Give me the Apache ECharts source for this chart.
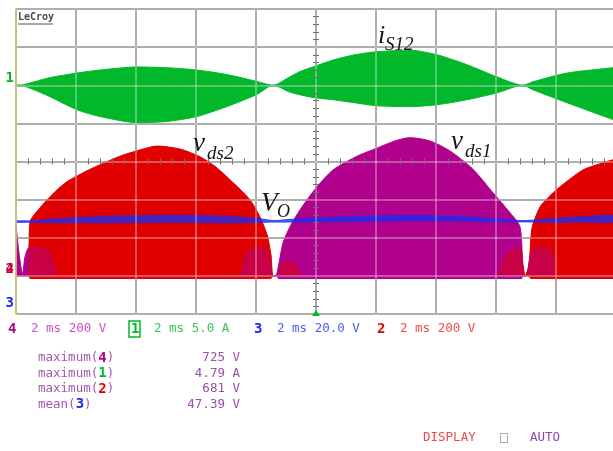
<!DOCTYPE html>
<html>
<head>
<meta charset="utf-8">
<script src="https://cdn.jsdelivr.net/npm/echarts@6/dist/echarts.min.js"></script>
<style>
  html, body { margin: 0; padding: 0; background: #ffffff; }
  #scope { width: 613px; height: 451px; }
</style>
</head>
<body>
<div id="scope"></div>
<script>
// ---- Channel 1: switch current i_S12 (A), envelope of the switching waveform ----
const greenT     = [0, 0.13, 0.6, 1.13, 2.03, 2.8, 4.03, 5.03, 6.03, 7.03, 8.03, 8.57, 9.13, 9.47, 9.9, 10.57, 11.3, 12.03, 13.13, 14.03, 15.03, 16.03, 16.9, 17.23, 18.37, 19.9, 20];
const greenUpper = [0.1, 0, 0.45, 1.0, 1.6, 2.0, 2.4, 2.3, 2.0, 1.4, 0.5, 0, 1.1, 1.8, 2.4, 3.3, 4.0, 4.4, 4.6, 4.0, 2.7, 1.1, 0, 0.45, 1.6, 2.3, 2.35];
const greenLower = [-0.1, 0, -0.6, -1.5, -3.2, -4.1, -4.9, -4.75, -4.1, -2.8, -1.2, 0, -0.9, -1.25, -1.6, -1.9, -2.3, -2.7, -2.8, -2.55, -1.9, -1.0, 0, -0.6, -2.3, -4.5, -4.6];

// ---- Channel 2: drain-source voltage v_ds2 (V), envelope ----
const redT = [0, 0.35, 0.43, 0.47, 0.8, 1.3, 1.7, 2.3, 2.8, 3.47, 4.23, 4.7, 5.47, 6.13, 6.63, 7.23, 7.8, 8.13, 8.37, 8.5, 8.57, 8.7, 8.87, 9.13, 9.4, 9.57, 15.97, 16.23, 16.53, 16.8, 16.9, 16.97, 17.1, 17.2, 17.47, 17.8, 18.13, 18.9, 19.5, 19.9, 20];
const redV = [0, 0, 150, 284, 357, 441, 494, 546, 583, 628, 665, 681, 665, 625, 575, 490, 399, 310, 215, 110, 0, 0, 70, 80, 50, 0, 0, 90, 140, 150, 60, 0, 60, 250, 362, 420, 467, 556, 590, 609, 612];
// switching undershoot below ground
const redFloorT = [0.43, 0.47, 8.5, 8.56, 17.1, 17.15, 20];
const redFloorV = [0, -14, -14, 0, 0, -14, -14];

// ---- Channel 4: drain-source voltage v_ds1 (V), envelope ----
const purpleT = [0, 0.1, 0.22, 0.3, 0.45, 0.8, 1.1, 1.3, 1.4, 7.4, 7.63, 7.97, 8.3, 8.47, 8.55, 8.63, 8.7, 8.9, 9.13, 9.47, 10.03, 10.57, 11.37, 12.03, 12.63, 13.13, 13.8, 14.47, 15.23, 15.9, 16.47, 16.8, 16.9, 16.95, 17.03, 17.13, 17.3, 17.63, 17.9, 18.07, 20];
const purpleV = [268, 120, 10, 100, 150, 150, 130, 40, 0, 0, 110, 150, 150, 90, 0, 0, 15, 173, 257, 347, 467, 556, 628, 670, 708, 725, 708, 655, 560, 436, 331, 257, 30, 0, 0, 100, 150, 150, 110, 0, 0];
const purpleFloorT = [8.7, 8.75, 16.85, 16.9];
const purpleFloorV = [0, -14, -14, 0];

// ---- Channel 3: output voltage V_O (V), ripple band ----
const blueT     = [0, 0.5, 1, 2, 3, 4, 5, 6, 7, 8, 8.6, 9, 10, 11, 12, 13, 14, 15, 16, 16.9, 17.5, 18, 19, 20];
const blueUpper = [46.9, 46.9, 47.6, 48.6, 49.2, 49.6, 49.8, 49.7, 49.2, 48.2, 47.0, 47.5, 48.3, 49.0, 49.5, 49.7, 49.6, 49.0, 47.9, 47.0, 47.6, 48.3, 49.2, 49.6];
const blueLower = [46.1, 46.1, 45.9, 45.9, 45.9, 46.0, 46.1, 46.0, 45.9, 46.0, 46.2, 46.2, 46.3, 46.5, 46.7, 46.9, 46.9, 46.7, 46.4, 46.3, 46.2, 46.1, 46.2, 46.3];

// ---- Trace settings and measurements ----
const chanIds    = ['4', '1', '3', '2'];
const chanScales = ['2 ms 200 V', '2 ms 5.0 A', '2 ms 20.0 V', '2 ms 200 V'];
const measFunc   = ['maximum', 'maximum', 'maximum', 'mean'];
const measChan   = ['4', '1', '2', '3'];
const measValue  = ['725 V', '4.79 A', '681 V', '47.39 V'];

// ---- Styles ----
const COL = { '1': '#00b82a', '2': '#e00000', '3': '#1a2cf0', '4': '#b0008c' };
const TXT = { '1': '#3cc45a', '2': '#f04c4c', '3': '#4a5cf0', '4': '#cc50c8' };
const MONO = '"DejaVu Sans Mono", "Liberation Mono", monospace';
const SERIF = '"Liberation Serif", "DejaVu Serif", serif';

const pairs = (t, v) => t.map((x, i) => [x, v[i]]);

function trace(name, t, v, color, yAxisIndex, extra) {
  return Object.assign({
    name, type: 'line', xAxisIndex: 0, yAxisIndex,
    data: pairs(t, v), symbol: 'none', showSymbol: false,
    smooth: 0.25, animation: false, silent: true,
    lineStyle: { color, width: 1 },
    areaStyle: { color, opacity: 1, origin: 'auto' },
    z: 2
  }, extra || {});
}

const hidden = {
  axisLine: { show: false, onZero: false },
  axisTick: { show: false },
  axisLabel: { show: false },
  splitLine: { show: false }
};

function divAxisX(over) { return Object.assign({ type: 'value', min: 0, max: 20, interval: 2, position: 'bottom' }, hidden, over); }
function divAxisY(over) { return Object.assign({ type: 'value', min: -4, max: 4, interval: 1, position: 'left' }, hidden, over); }

function chanAxis(id, min, max, interval) {
  return Object.assign({ type: 'value', min, max, interval, position: 'left' }, hidden, {
    axisLabel: {
      show: true, interval: 0, margin: 2, verticalAlign: 'bottom',
      fontFamily: MONO, fontSize: 14, fontWeight: 'bold', color: COL[id],
      formatter: (val) => (val === 0 ? id : '')
    },
    z: 12
  });
}

const crossTicks = { show: true, splitNumber: 5, length: 3, lineStyle: { color: '#6e6e6e', width: 1 } };

// V_O ripple band: polygon between the upper and lower envelopes, placed through the axes
function renderBand(params, api) {
  const top = blueT.map((t, i) => api.coord([t, blueUpper[i]]));
  const bottom = blueT.map((t, i) => api.coord([t, blueLower[i]])).reverse();
  return {
    type: 'polygon',
    shape: { points: top.concat(bottom), smooth: 0.25 },
    style: { fill: COL['3'], opacity: 0.78, stroke: COL['3'], lineWidth: 1 }
  };
}

const option = {
  animation: false,
  backgroundColor: '#ffffff',
  grid: { left: 16, top: 9, width: 600, height: 305, containLabel: false, outerBoundsMode: 'none' },
  xAxis: [
    divAxisX({ splitLine: { show: true, lineStyle: { color: '#8e8e8e', width: 2 } }, z: 0 }),
    divAxisX({ splitLine: { show: true, lineStyle: { color: 'rgba(236,236,236,0.35)', width: 2 } }, z: 10 }),
    divAxisX({ offset: -152.5, axisTick: { show: false, inside: true }, minorTick: crossTicks, z: 11 }),
    divAxisX({ offset: -152.5, axisTick: { show: false, inside: false }, minorTick: crossTicks, z: 11 })
  ],
  yAxis: [
    divAxisY({ splitLine: { show: true, lineStyle: { color: '#8e8e8e', width: 2 } }, z: 0 }),
    divAxisY({
      splitLine: { show: true, lineStyle: { color: 'rgba(236,236,236,0.35)', width: 2 } },
      axisLine: { show: true, onZero: false, lineStyle: { color: '#c9c66a', width: 1.5 } }, z: 10
    }),
    divAxisY({ offset: -300, axisTick: { show: false, inside: true }, minorTick: crossTicks, z: 11 }),
    divAxisY({ offset: -300, axisTick: { show: false, inside: false }, minorTick: crossTicks, z: 11 }),
    chanAxis('1', -30, 10, 10),      // 4: channel 1, 5 A/div
    chanAxis('4', -200, 1400, 200),  // 5: channel 4, 200 V/div
    chanAxis('3', -2, 158, 2),       // 6: channel 3, 20 V/div
    chanAxis('2', -200, 1400, 200)   // 7: channel 2, 200 V/div
  ],
  series: [
    trace('i_S12 +', greenT, greenUpper, COL['1'], 4),
    trace('i_S12 -', greenT, greenLower, COL['1'], 4),
    trace('v_ds2', redT, redV, COL['2'], 7),
    trace('v_ds2 floor', redFloorT, redFloorV, COL['2'], 7, { smooth: false }),
    trace('v_ds1', purpleT, purpleV, COL['4'], 5, { z: 3 }),
    trace('v_ds1 floor', purpleFloorT, purpleFloorV, COL['4'], 5, { z: 3, smooth: false }),
    // v_ds2 drawn again, half transparent, so overlapping traces blend
    trace('v_ds2 overlay', redT, redV, COL['2'], 7, {
      z: 4, lineStyle: { width: 0, opacity: 0 }, areaStyle: { color: COL['2'], opacity: 0.5, origin: 'auto' }
    }),
    {
      name: 'V_O', type: 'custom', xAxisIndex: 0, yAxisIndex: 6,
      data: [[blueT[0], blueLower[0]]], renderItem: renderBand,
      silent: true, animation: false, z: 5, clip: true
    }
  ],
  graphic: []
};

const g = option.graphic;

// LeCroy logo
g.push({ type: 'text', x: 18, y: 17, z: 20, style: { text: 'LeCroy', font: 'bold 10px ' + MONO, fill: '#4a4a4a', verticalAlign: 'middle' } });
g.push({ type: 'line', z: 20, shape: { x1: 18, y1: 24, x2: 53, y2: 24 }, style: { stroke: '#555', lineWidth: 1.2 } });

// trigger marker
g.push({ type: 'polygon', z: 20, shape: { points: [[312, 316], [320, 316], [316, 310]] }, style: { fill: '#00b82a' } });

// trace annotations
function annot(main, sub, x, base, subX, subBase, mainSize, subSize) {
  g.push({ type: 'text', x, y: base - 0.34 * mainSize, z: 20,
    style: { text: main, font: 'italic ' + mainSize + 'px ' + SERIF, fill: '#141414', verticalAlign: 'middle' } });
  g.push({ type: 'text', x: subX, y: subBase - 0.34 * subSize, z: 20,
    style: { text: sub, font: 'italic ' + subSize + 'px ' + SERIF, fill: '#141414', verticalAlign: 'middle' } });
}
annot('i', 'S12', 378, 45, 385, 51, 26, 19);
annot('v', 'ds2', 193, 153, 207, 160, 27, 19);
annot('V', 'O', 261, 213, 277, 218, 27, 18);
annot('v', 'ds1', 451, 151, 465, 158, 27, 19);

// channel settings row
const idX = [8, 131, 254, 377];
chanIds.forEach((id, i) => {
  g.push({ type: 'text', x: idX[i], y: 329, z: 20,
    style: { text: id, font: 'bold 14px ' + MONO, fill: COL[id], verticalAlign: 'middle' } });
  g.push({ type: 'text', x: idX[i] + 23, y: 329, z: 20,
    style: { text: chanScales[i], font: '12.5px ' + MONO, fill: TXT[id], verticalAlign: 'middle' } });
  if (id === '1') {
    g.push({ type: 'rect', z: 20, shape: { x: idX[i] - 2, y: 321, width: 11, height: 16 },
      style: { fill: 'none', stroke: COL[id], lineWidth: 1.5 } });
  }
});

// measurement table
const rowY = [358, 373.5, 389, 404.5];
measFunc.forEach((f, i) => {
  g.push({ type: 'text', x: 38, y: rowY[i], z: 20, style: {
    text: '{a|' + f + '(}{d|' + measChan[i] + '}{a|)}',
    verticalAlign: 'middle',
    rich: {
      a: { font: '12.5px ' + MONO, fill: '#a456b0' },
      d: { font: 'bold 14px ' + MONO, fill: COL[measChan[i]] }
    }
  } });
  g.push({ type: 'text', x: 240, y: rowY[i], z: 20, style: {
    text: measValue[i], font: '12.5px ' + MONO, fill: '#9652a6', align: 'right', verticalAlign: 'middle'
  } });
});

// status line
g.push({ type: 'text', x: 423, y: 438, z: 20, style: { text: 'DISPLAY', font: '12.5px ' + MONO, fill: '#f04848', verticalAlign: 'middle' } });
g.push({ type: 'rect', z: 20, shape: { x: 500.5, y: 433.5, width: 7, height: 9 }, style: { fill: 'none', stroke: '#a8a8a8', lineWidth: 1 } });
g.push({ type: 'text', x: 530, y: 438, z: 20, style: { text: 'AUTO', font: '12.5px ' + MONO, fill: '#9446ae', verticalAlign: 'middle' } });

const chart = echarts.init(document.getElementById('scope'), null, { renderer: 'canvas', width: 613, height: 451 });
chart.setOption(option);
</script>
</body>
</html>
